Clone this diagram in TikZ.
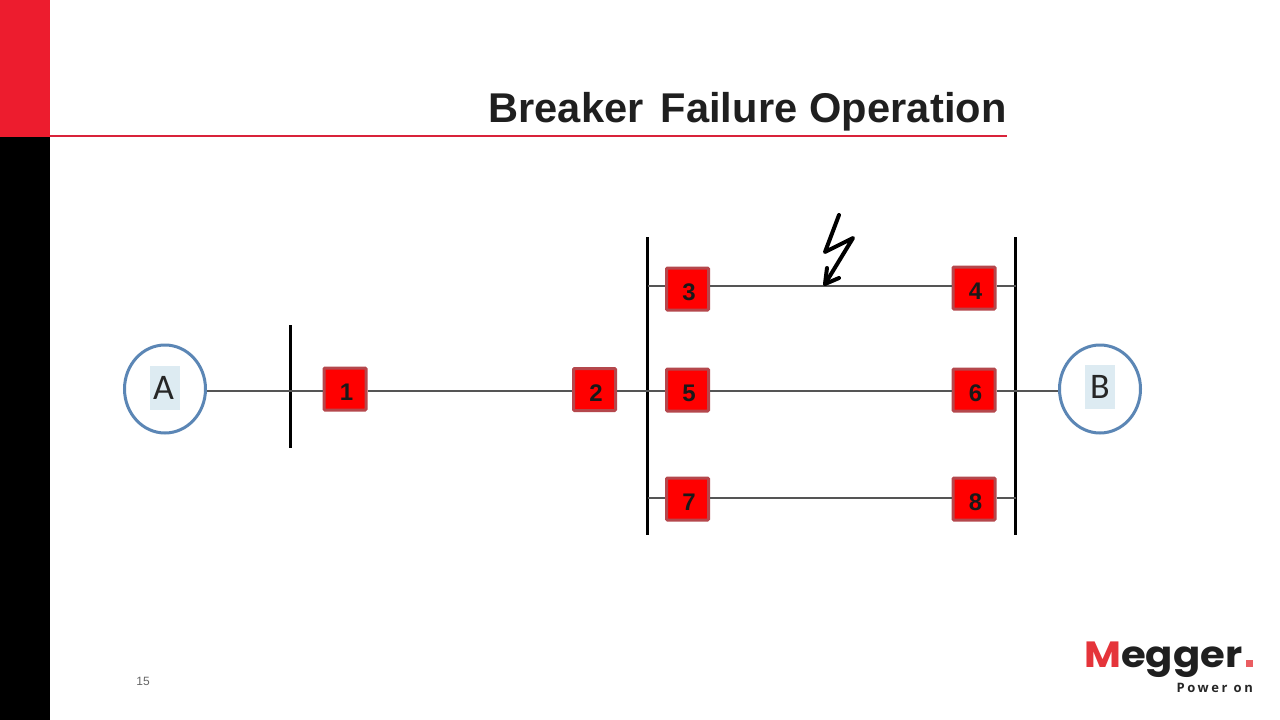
\documentclass[tikz,border=0pt]{standalone}
\usepackage{fontspec}
\setmainfont{Liberation Sans}
\newfontfamily\logofont[FakeStretch=1.1]{Poppins}
\newfontfamily\tagfont[LetterSpace=20]{Open Sans}
\newfontfamily\titlefont[LetterSpace=0.3]{Liberation Sans}
\newfontfamily\letterfont{Carlito}
\definecolor{bandred}{HTML}{ED1C2E}
\definecolor{rulered}{HTML}{D9233A}
\definecolor{boxedge}{HTML}{B5474C}
\definecolor{ringblue}{HTML}{5B86B5}
\definecolor{tintblue}{HTML}{DDEBF2}
\definecolor{wire}{HTML}{555555}
\definecolor{logored}{HTML}{E5343A}
\newcommand{\brknum}[1]{\hspace{3pt}#1}
\usetikzlibrary{shapes.geometric}
\tikzset{
  breaker/.style={draw=boxedge,line width=3pt,fill=red,minimum size=42pt,inner sep=0pt,rounded corners=1pt,text height=23pt,text depth=0pt,font=\fontsize{24}{24}\selectfont\bfseries,text=black!90},
  source/.style={ellipse,draw=ringblue,line width=3pt,fill=white,minimum width=81pt,minimum height=88pt,inner sep=0pt},
  tag/.style={fill=tintblue,minimum width=30pt,minimum height=44pt,inner sep=0pt,font=\letterfont\fontsize{36}{36}\selectfont,text=black!85},
  bus/.style={line width=2.2pt,black},
  wireline/.style={line width=1.3pt,wire},
  bolt/.style={line width=4pt,black,line cap=round,line join=round}
}
\begin{document}
\begin{tikzpicture}[x=1pt,y=-1pt]
\useasboundingbox (0,0) rectangle (1280,720);
\fill[white] (0,0) rectangle (1280,720);
\fill[bandred] (0,0) rectangle (50,137);
\fill[black] (0,137) rectangle (50,720);
\draw[rulered,line width=1.4pt] (50,136) -- (1007,136);
\node[anchor=east,inner sep=0pt,text=black!88,font=\titlefont\fontsize{41.6}{42}\selectfont\bfseries] (title) at (1007,112) {Breaker\hspace{5pt} Failure Operation};
\node[inner sep=0pt,text=black!60,font=\fontsize{12}{12}\selectfont] (page) at (143,681) {15};
% sources
\node[source] (A) at (165,389) {};
\node[source] (B) at (1100,389) {};
\node[tag] (tagA) at (165,388) {\hspace{-3pt}A};
\node[tag] (tagB) at (1100,387) {B};
% breakers
\node[breaker] (b1) at (345,389) {\brknum{1}};
\node[breaker] (b2) at (594.5,389.5) {\brknum{2}};
\node[breaker] (b3) at (687.5,289) {\brknum{3}};
\node[breaker] (b4) at (974,288) {\brknum{4}};
\node[breaker] (b5) at (687.5,390) {\brknum{5}};
\node[breaker] (b6) at (974,390) {\brknum{6}};
\node[breaker] (b7) at (687.5,499) {\brknum{7}};
\node[breaker] (b8) at (974,499) {\brknum{8}};
% buses
\coordinate (busAtop) at (290.5,325); \coordinate (busAbot) at (290.5,448);
\coordinate (busCtop) at (647.5,237); \coordinate (busCbot) at (647.5,535);
\coordinate (busDtop) at (1015.5,237); \coordinate (busDbot) at (1015.5,535);
\draw[bus] (busAtop) -- (busAbot);
\draw[bus] (busCtop) -- (busCbot);
\draw[bus] (busDtop) -- (busDbot);
% wires
\coordinate (r1) at (0,286); \coordinate (r2) at (0,391); \coordinate (r3) at (0,498);
\draw[wireline] (A.east |- r2) -- (b1.west |- r2);
\draw[wireline] (b1.east |- r2) -- (b2.west |- r2);
\draw[wireline] (b2.east |- r2) -- (b5.west |- r2);
\draw[wireline] (b5.east |- r2) -- (b6.west |- r2);
\draw[wireline] (b6.east |- r2) -- (B.west |- r2);
\draw[wireline] (busCtop |- r1) -- (b3.west |- r1);
\draw[wireline] (b3.east |- r1) -- (b4.west |- r1);
\draw[wireline] (b4.east |- r1) -- (busDtop |- r1);
\draw[wireline] (busCtop |- r3) -- (b7.west |- r3);
\draw[wireline] (b7.east |- r3) -- (b8.west |- r3);
\draw[wireline] (b8.east |- r3) -- (busDtop |- r3);
% fault
\draw[bolt] (839,215) -- (825,252) -- (853,238) -- (825,284);
\draw[bolt] (827,268) -- (825,284) -- (839,278);
% logo
\node[anchor=base west,inner sep=0pt,font=\logofont\fontsize{36.5}{37}\selectfont\bfseries] (logo) at (1084,667) {\textcolor{logored}{M}\textcolor{black!88}{egger}};
\fill[logored!80] (1246,660) rectangle (1253,667);
\node[anchor=base east,inner sep=0pt,text=black!85,font=\tagfont\fontsize{13}{13}\selectfont\bfseries] (tagline) at (1253,692) {Power\ on};
\end{tikzpicture}
\end{document}
